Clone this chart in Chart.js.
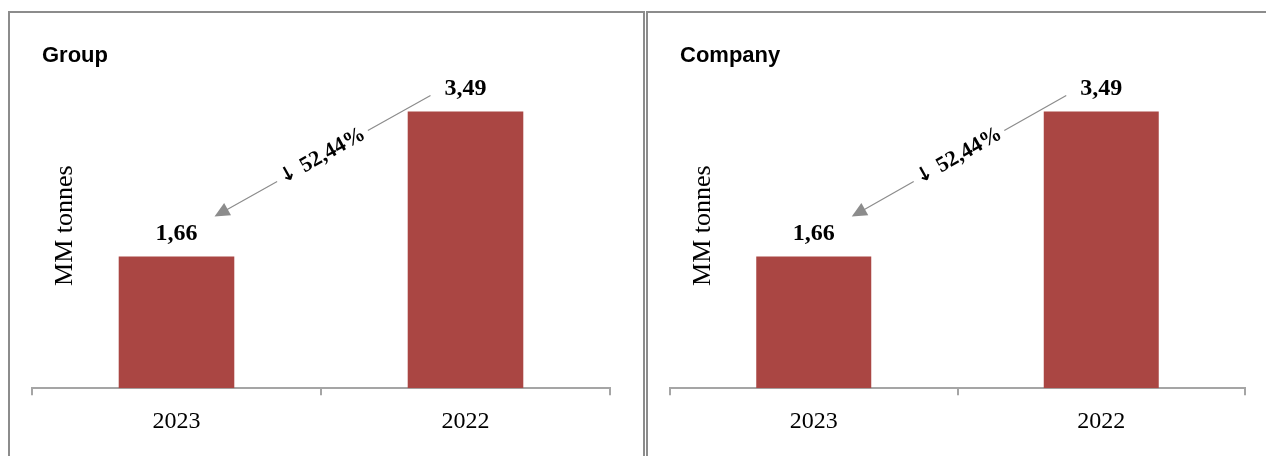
<!DOCTYPE html>
<html>
<head>
<meta charset="utf-8">
<script src="https://cdn.jsdelivr.net/npm/chart.js@4"></script>
<style>
  body { margin: 0; background: #fff; width: 1266px; height: 456px; overflow: hidden; position: relative; }
  .box { position: absolute; top: 11px; border: 2px solid #8c8c8c; border-bottom: none; box-sizing: border-box; height: 460px; }
  #box1 { left: 8px; width: 637px; }
  #box2 { left: 646px; width: 640px; border-right: none; }
  .box canvas { position: absolute; left: 0; top: 0; }
</style>
</head>
<body>
<div class="box" id="box1"><canvas id="groupChart" width="633" height="443"></canvas></div>
<div class="box" id="box2"><canvas id="companyChart" width="618" height="443"></canvas></div>
<script>
// Chart data
const categories = ['2023', '2022'];
const groupValues = [1.66, 3.49];
const companyValues = [1.66, 3.49];
const changeLabel = '52,44%';
const axisTitle = 'MM tonnes';

const barColor = '#AA4643';
const axisColor = '#a5a5a5';
const arrowColor = '#8c8c8c';
const serif = "'Liberation Serif', 'DejaVu Serif', serif";
const sans = "'Liberation Sans', Arial, sans-serif";

// Format number with comma decimal
function formatValue(v) {
    return v.toFixed(2).replace('.', ',');
}

// Draws panel title, axis title, value labels and the change arrow
const annotationPlugin = {
    id: 'annotations',
    afterDatasetsDraw(chart, args, opts) {
        const ctx = chart.ctx;
        const area = chart.chartArea;
        const bars = chart.getDatasetMeta(0).data;
        const values = chart.data.datasets[0].data;

        ctx.save();

        // Panel title
        ctx.fillStyle = '#000';
        ctx.font = 'bold 22px ' + sans;
        ctx.textAlign = 'left';
        ctx.textBaseline = 'alphabetic';
        ctx.fillText(opts.title, 32, 49);

        // Vertical axis title
        ctx.save();
        ctx.translate(area.left + 33, (area.top + area.bottom) / 2 - 4);
        ctx.rotate(-Math.PI / 2);
        ctx.font = '26px ' + serif;
        ctx.textAlign = 'center';
        ctx.textBaseline = 'middle';
        ctx.fillText(axisTitle, 0, 0);
        ctx.restore();

        // Value labels
        ctx.font = 'bold 24px ' + serif;
        ctx.textAlign = 'center';
        ctx.textBaseline = 'middle';
        bars.forEach((bar, i) => {
            ctx.fillText(formatValue(values[i]), bar.x, bar.y - 23);
        });

        // Change arrow from 2022 label down to 2023 label
        const sx = bars[1].x - 35, sy = bars[1].y - 16;
        const tx = bars[0].x + 38, ty = bars[0].y - 40;
        const ang = Math.atan2(ty - sy, tx - sx);
        const len = Math.hypot(tx - sx, ty - sy);
        ctx.translate(sx, sy);
        ctx.rotate(ang);
        ctx.strokeStyle = arrowColor;
        ctx.fillStyle = arrowColor;
        ctx.lineWidth = 1.2;
        const mid = len / 2;
        const gap = 52;
        ctx.beginPath();
        ctx.moveTo(0, 0);
        ctx.lineTo(mid - gap, 0);
        ctx.moveTo(mid + gap, 0);
        ctx.lineTo(len - 12, 0);
        ctx.stroke();
        ctx.beginPath();
        ctx.moveTo(len, 0);
        ctx.lineTo(len - 15, -7);
        ctx.lineTo(len - 15, 7);
        ctx.closePath();
        ctx.fill();

        // Change text along the arrow (rotated upright)
        ctx.translate(mid, 0);
        ctx.rotate(Math.PI);
        ctx.fillStyle = '#000';
        ctx.textBaseline = 'middle';
        ctx.textAlign = 'left';
        ctx.font = 'bold 22px ' + serif;
        const txt = changeLabel;
        ctx.font = 'bold 20px DejaVu Sans';
        const aw = ctx.measureText('\u2193 ').width;
        ctx.font = 'bold 22px ' + serif;
        const tw = ctx.measureText(txt).width;
        const x0 = -(aw + tw) / 2;
        ctx.font = 'bold 20px DejaVu Sans';
        ctx.fillText('\u2193', x0, 0);
        ctx.font = 'bold 22px ' + serif;
        ctx.fillText(txt, x0 + aw, 0);

        ctx.restore();
    }
};

// Build one bar panel
function createPanel(canvasId, title, values, padRight) {
    const ctx = document.getElementById(canvasId);
    return new Chart(ctx, {
        type: 'bar',
        data: {
            labels: categories,
            datasets: [{
                data: values,
                backgroundColor: barColor,
                borderWidth: 0,
                categoryPercentage: 0.8,
                barPercentage: 0.5
            }]
        },
        options: {
            responsive: false,
            animation: false,
            layout: {
                padding: { left: 22, right: padRight, top: 58, bottom: 8 }
            },
            plugins: {
                legend: { display: false },
                tooltip: { enabled: false },
                title: { display: false },
                annotations: { title: title }
            },
            scales: {
                x: {
                    grid: {
                        display: true,
                        drawOnChartArea: false,
                        drawTicks: true,
                        tickLength: 7,
                        color: axisColor,
                        lineWidth: 2,
                        offset: true
                    },
                    border: { display: true, color: axisColor, width: 2 },
                    ticks: {
                        color: '#000',
                        padding: 12,
                        font: { family: serif, size: 24 }
                    }
                },
                y: {
                    display: false,
                    min: 0,
                    max: 4
                }
            }
        },
        plugins: [annotationPlugin]
    });
}

createPanel('groupChart', 'Group', groupValues, 33);
createPanel('companyChart', 'Company', companyValues, 21);
</script>
</body>
</html>
